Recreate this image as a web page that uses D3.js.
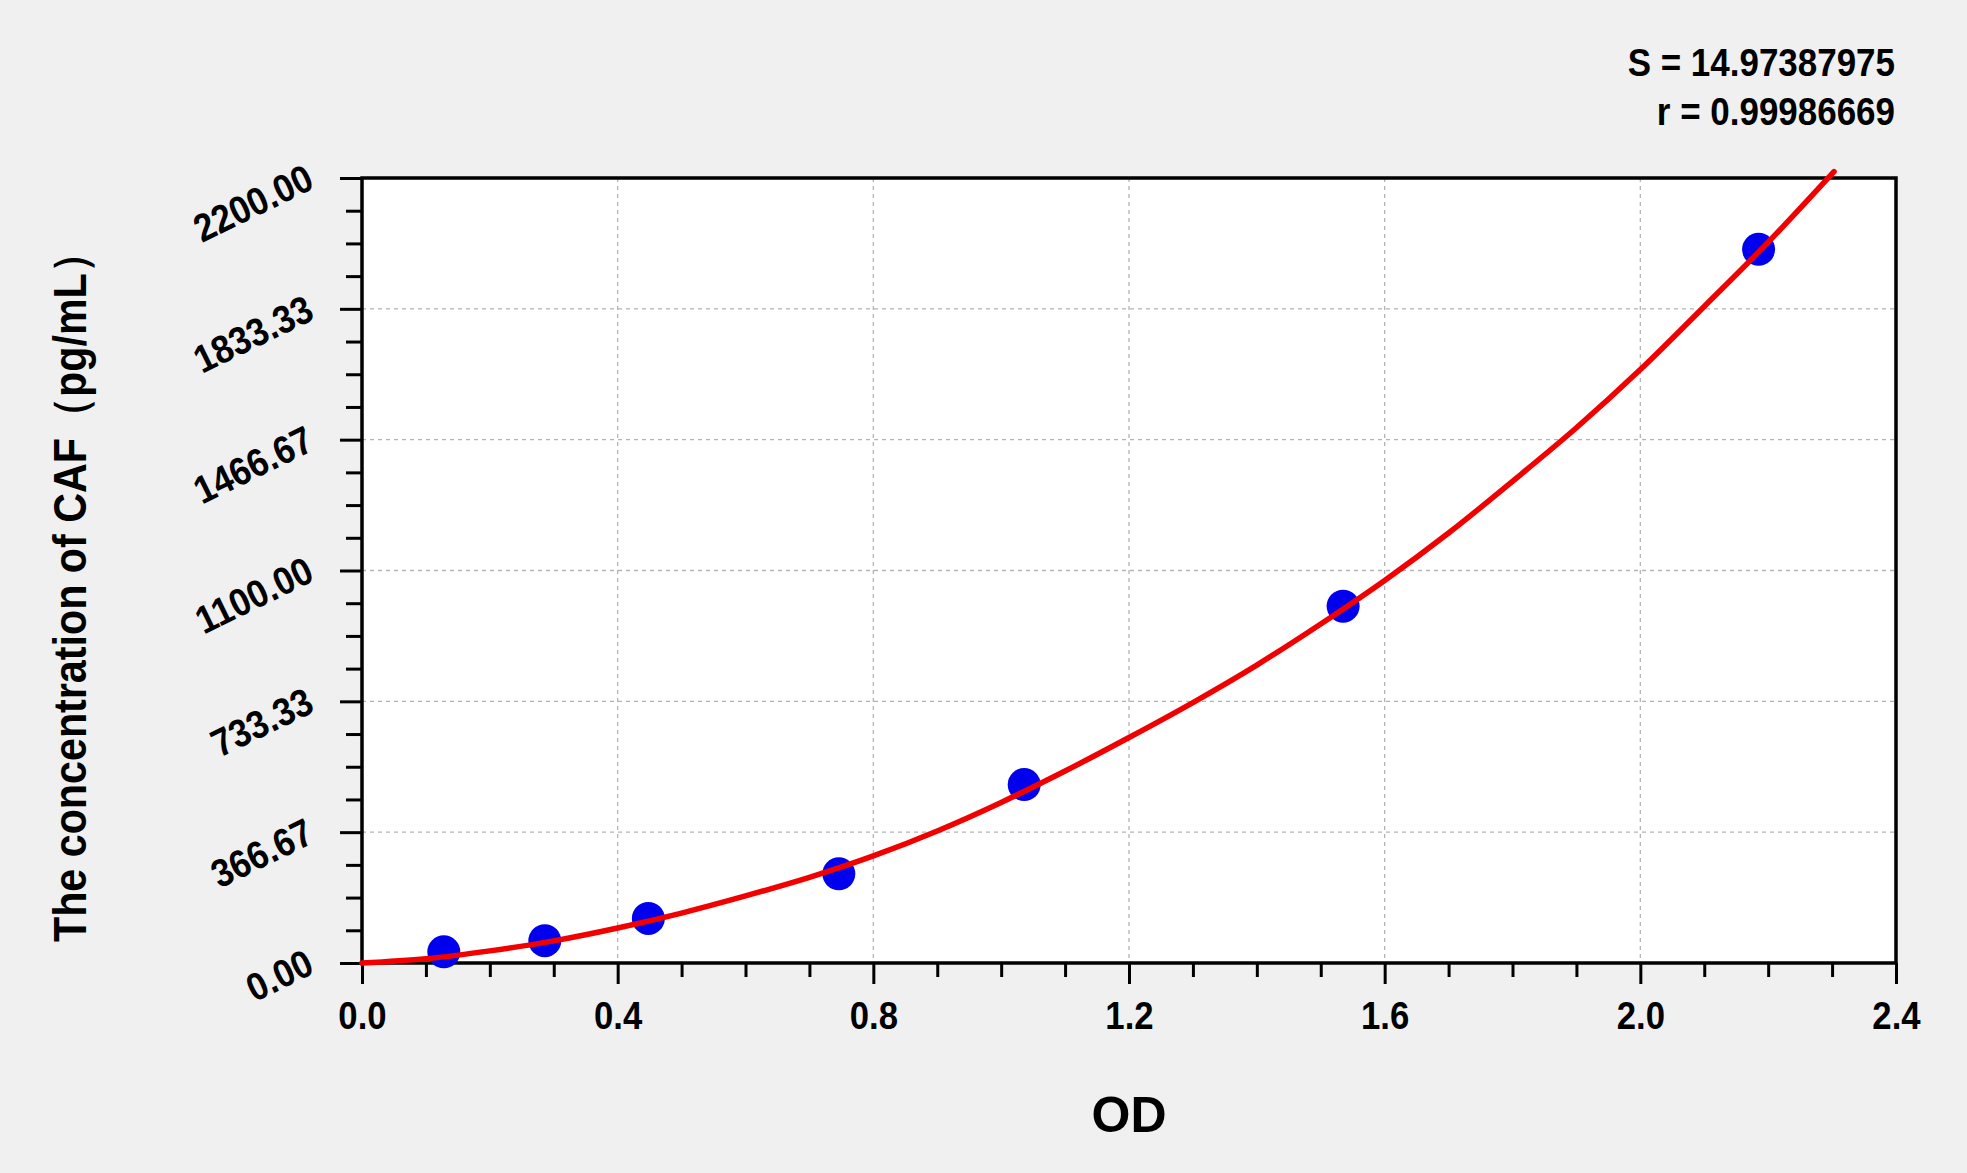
<!DOCTYPE html>
<html>
<head>
<meta charset="utf-8">
<script src="https://cdn.jsdelivr.net/npm/d3@7"></script>
<style>
  body { margin: 0; background: #f0f0f0; }
  text { font-family: "Liberation Sans", Arial, sans-serif; font-weight: bold; }
</style>
</head>
<body>
<div id="chart"></div>
<script>
// standard points
var od_values   = [0.128, 0.286, 0.448, 0.746, 1.036, 1.535, 2.185];
var conc_values = [31.25, 62.5, 125, 250, 500, 1000, 2000];

// fitted curve
var fit_od   = [0, 0.1, 0.2, 0.3, 0.4, 0.5, 0.6, 0.7, 0.8, 0.9, 1.0, 1.1, 1.2, 1.3, 1.4, 1.5, 1.6, 1.7, 1.8, 1.9, 2.0, 2.1, 2.2, 2.303];
var fit_conc = [0, 12, 34, 62, 98, 140, 188, 240, 300, 370, 450, 538, 632, 730, 835, 950, 1072, 1205, 1350, 1500, 1663, 1840, 2020, 2218];

var x_ticks = [0, 0.4, 0.8, 1.2, 1.6, 2.0, 2.4];
var y_ticks = [0, 366.67, 733.33, 1100, 1466.67, 1833.33, 2200];
var stats_lines = ["S = 14.97387975", "r = 0.99986669"];
var x_title = "OD";
var y_title = "The concentration of CAF\uFF08pg/mL\uFF09";

var width = 1967, height = 1173;
var plot_left = 362, plot_right = 1896, plot_top = 178, plot_bottom = 963;

// narrow, tall look of the original font
function squeeze(sel, k) {
  sel.attr("textLength", function () { return this.getComputedTextLength() * k; })
     .attr("lengthAdjust", "spacingAndGlyphs");
}

var svg = d3.select("#chart").append("svg")
              .attr("width", width)
              .attr("height", height);

svg.append("rect")
      .attr("width", width)
      .attr("height", height)
      .attr("fill", "#f0f0f0");

var x = d3.scaleLinear().domain([0, 2.4]).range([plot_left, plot_right]);
var y = d3.scaleLinear().domain([0, 2200]).range([plot_bottom, plot_top]);

svg.append("rect")
      .attr("x", plot_left)
      .attr("y", plot_top)
      .attr("width", plot_right - plot_left)
      .attr("height", plot_bottom - plot_top)
      .attr("fill", "white");

// dashed grid
var grid = svg.append("g")
              .attr("stroke", "#b4b4b4")
              .attr("stroke-width", 1.3)
              .style("stroke-dasharray", ("4, 4"));

grid.selectAll("line.v")
      .data(x_ticks.slice(1, -1))
      .enter()
      .append("line")
      .attr("class", "v")
      .attr("x1", function (d) { return x(d); })
      .attr("x2", function (d) { return x(d); })
      .attr("y1", plot_top)
      .attr("y2", plot_bottom);

grid.selectAll("line.h")
      .data(y_ticks.slice(1, -1))
      .enter()
      .append("line")
      .attr("class", "h")
      .attr("y1", function (d) { return y(d); })
      .attr("y2", function (d) { return y(d); })
      .attr("x1", plot_left)
      .attr("x2", plot_right);

// minor ticks
var x_minor = d3.range(1, 24).map(function (i) { return i / 10; })
                .filter(function (v, i) { return (i + 1) % 4 != 0; });
var y_minor = d3.range(1, 24).map(function (i) { return i * 2200 / 24; })
                .filter(function (v, i) { return (i + 1) % 4 != 0; });

svg.append("g")
      .attr("transform", "translate(0," + plot_bottom + ")")
      .call(d3.axisBottom(x).tickValues(x_minor).tickSize(14).tickFormat(""))
      .call(function (g) { g.select(".domain").remove(); })
      .selectAll("line").attr("stroke-width", 3);

svg.append("g")
      .attr("transform", "translate(" + plot_left + ",0)")
      .call(d3.axisLeft(y).tickValues(y_minor).tickSize(16).tickFormat(""))
      .call(function (g) { g.select(".domain").remove(); })
      .selectAll("line").attr("stroke-width", 3);

// major ticks + labels
var xAxis = svg.append("g")
      .attr("transform", "translate(0," + plot_bottom + ")")
      .call(d3.axisBottom(x).tickValues(x_ticks).tickSize(21).tickFormat(d3.format(".1f")));
xAxis.select(".domain").remove();
xAxis.selectAll("line").attr("stroke-width", 3);
xAxis.selectAll("text")
      .attr("y", 66)
      .attr("dy", 0)
      .attr("font-size", 39)
      .attr("fill", "#000")
      .call(squeeze, 0.89);

var yAxis = svg.append("g")
      .attr("transform", "translate(" + plot_left + ",0)")
      .call(d3.axisLeft(y).tickValues(y_ticks).tickSize(22).tickFormat(d3.format(".2f")));
yAxis.select(".domain").remove();
yAxis.selectAll("line").attr("stroke-width", 3);
yAxis.selectAll("text")
      .attr("x", -46)
      .attr("y", 9)
      .attr("dy", 0)
      .attr("font-size", 39)
      .attr("fill", "#000")
      .attr("text-anchor", "end")
      .attr("transform", "rotate(-26,-46,9)")
      .call(squeeze, 0.9);

// frame
svg.append("rect")
      .attr("x", plot_left)
      .attr("y", plot_top)
      .attr("width", plot_right - plot_left)
      .attr("height", plot_bottom - plot_top)
      .attr("fill", "none")
      .attr("stroke", "black")
      .attr("stroke-width", 3.5);

// points
svg.append("g").selectAll("circle")
      .data(od_values)
      .enter()
      .append("circle")
      .attr("cx", function (d) { return x(d); })
      .attr("cy", function (d, i) { return y(conc_values[i]); })
      .attr("r", 16.5)
      .attr("fill", "#0000ee");

// fitted curve
var line = d3.line()
      .x(function (d) { return x(d); })
      .y(function (d, i) { return y(fit_conc[i]); })
      .curve(d3.curveMonotoneX);

svg.append("path")
      .attr("d", line(fit_od))
      .attr("fill", "none")
      .attr("stroke", "#f20000")
      .attr("stroke-width", 5.5)
      .attr("stroke-linecap", "round");

// stats text
svg.selectAll("text.stat")
      .data(stats_lines)
      .enter()
      .append("text")
      .attr("class", "stat")
      .attr("x", 1895)
      .attr("y", function (d, i) { return 76 + i * 49; })
      .attr("text-anchor", "end")
      .attr("font-size", 38)
      .text(function (d) { return d; })
      .call(squeeze, 0.92);

// axis titles
svg.append("text")
      .attr("x", x(1.2))
      .attr("y", 1132)
      .attr("text-anchor", "middle")
      .attr("font-size", 50)
      .text(x_title);

svg.append("text")
      .attr("transform", "translate(86,587) rotate(-90)")
      .attr("text-anchor", "middle")
      .attr("font-size", 46)
      .attr("textLength", 710)
      .attr("lengthAdjust", "spacingAndGlyphs")
      .text(y_title);
</script>
</body>
</html>
